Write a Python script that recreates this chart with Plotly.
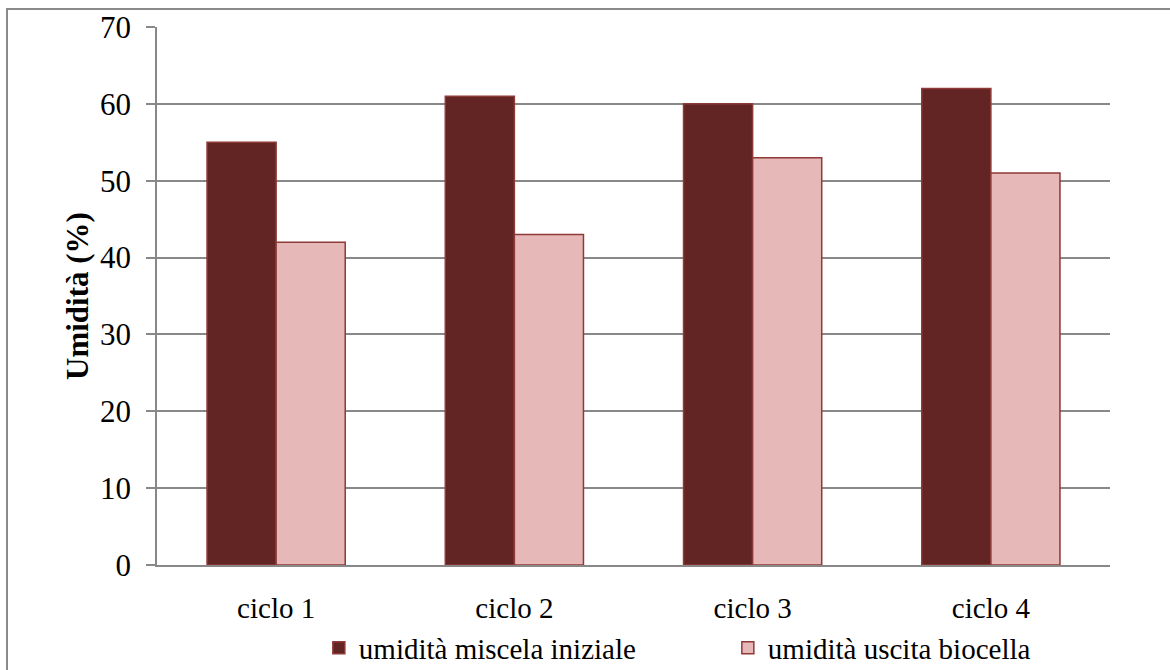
import plotly.graph_objects as go

categories = ["ciclo 1", "ciclo 2", "ciclo 3", "ciclo 4"]
umidita_iniziale = [55, 61, 60, 62]
umidita_uscita = [42, 43, 53, 51]

series_names = ["umidità miscela iniziale", "umidità uscita biocella"]

SERIF = "Liberation Serif, Times New Roman, serif"
GRID = "#888888"
EDGE = "#8E3A38"

fig = go.Figure()
fig.add_trace(go.Bar(
    x=categories, y=umidita_iniziale, name=series_names[0],
    marker=dict(color="#632523", line=dict(color=EDGE, width=1.5)),
))
fig.add_trace(go.Bar(
    x=categories, y=umidita_uscita, name=series_names[1],
    marker=dict(color="#E6B8B7", line=dict(color=EDGE, width=1.5)),
))

fig.update_layout(
    width=1170, height=670,
    margin=dict(l=157, r=60, t=27, b=105, autoexpand=False),
    plot_bgcolor="white", paper_bgcolor="white",
    barmode="group", bargap=0.42, bargroupgap=0,
    font=dict(family=SERIF, size=29, color="black"),
    showlegend=True,
    legend=dict(
        orientation="h", x=0.599, xanchor="center", y=-0.154, yanchor="middle",
        font=dict(family=SERIF, size=29), itemwidth=30,
        entrywidth=364, entrywidthmode="pixels",
        traceorder="normal", bgcolor="rgba(0,0,0,0)",
    ),
    shapes=[dict(
        type="rect", xref="paper", yref="paper",
        x0=-0.1574, x1=1.3, y0=-0.4, y1=1.0335,
        line=dict(color="#8a8a8a", width=2), layer="below",
    )],
)

fig.update_xaxes(
    showline=True, linecolor=GRID, linewidth=1.5, automargin=False,
    showgrid=False, ticks="", ticklabelstandoff=16,
    tickfont=dict(family=SERIF, size=29),
)
fig.update_yaxes(
    range=[0, 70], dtick=10, tick0=0, automargin=False,
    showline=True, linecolor=GRID, linewidth=1.5,
    showgrid=True, gridcolor=GRID, gridwidth=1.5,
    ticks="outside", ticklen=9, tickcolor=GRID, tickwidth=1.5,
    ticklabelstandoff=9, zeroline=False,
    tickfont=dict(family=SERIF, size=31),
    title=dict(text="<b>Umidità (%)</b>", standoff=2,
               font=dict(family=SERIF, size=31)),
)

fig.write_html("out.html")
